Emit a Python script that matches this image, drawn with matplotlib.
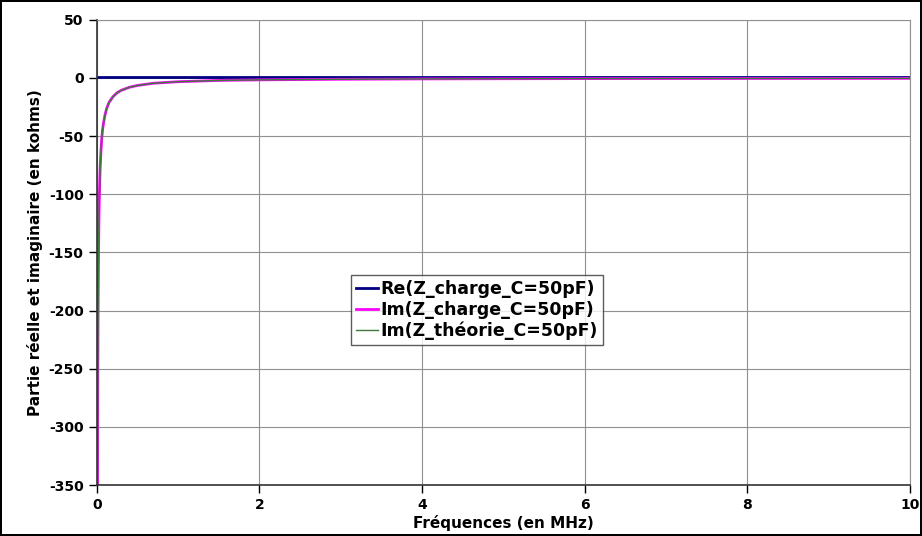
import matplotlib.pyplot as plt
import numpy as np

plt.rcParams['axes.unicode_minus'] = False

# Donnees (f en MHz, Z en kohms)
freq = np.array([0.009, 0.01, 0.012, 0.015, 0.02, 0.025, 0.03, 0.04, 0.05, 0.06,
                 0.07, 0.08, 0.1, 0.12, 0.15, 0.2, 0.25, 0.3, 0.4, 0.5, 0.7,
                 1, 1.5, 2, 3, 4, 5, 6, 7, 8, 9, 10])
re_charge = np.array([1.0] * len(freq))
im_charge = np.array([-354, -318, -265, -212, -159, -127, -106, -80, -64, -53,
                      -45, -40, -32, -26.5, -21, -16, -12.7, -10.6, -8, -6.4, -4.5,
                      -3.2, -2.1, -1.6, -1.1, -0.8, -0.64, -0.53, -0.45, -0.4, -0.35, -0.32])
im_theorie = im_charge.copy()

xticks = [0, 2, 4, 6, 8, 10]
yticks = [50, 0, -50, -100, -150, -200, -250, -300, -350]

fig = plt.figure(figsize=(9.22, 5.36), dpi=100)
fig.patch.set_edgecolor('black')
fig.patch.set_linewidth(1.5)
ax = fig.add_axes([0.105, 0.095, 0.882, 0.868])

ax.plot(freq, re_charge, color='#000080', linewidth=2, label='Re(Z_charge_C=50pF)')
ax.plot(freq, im_charge, color='#ff00ff', linewidth=2, label='Im(Z_charge_C=50pF)')
ax.plot(freq, im_theorie, color='#3c7a3c', linewidth=1, label='Im(Z_théorie_C=50pF)')

ax.set_xlim(0, 10)
ax.set_ylim(-350, 50)
ax.set_xticks(xticks)
ax.set_yticks(yticks)
ax.grid(True, color='#909090', linewidth=0.8)
ax.set_axisbelow(True)
for s in ['top', 'right']:
    ax.spines[s].set_color('#909090')
    ax.spines[s].set_linewidth(0.8)
for s in ['left', 'bottom']:
    ax.spines[s].set_color('#333333')
    ax.spines[s].set_linewidth(1.2)
ax.tick_params(length=6, width=1, labelsize=10)
for lab in ax.get_xticklabels() + ax.get_yticklabels():
    lab.set_fontweight('bold')

ax.set_xlabel('Fréquences (en MHz)', fontsize=11, fontweight='bold', labelpad=2)
ax.set_ylabel('Partie réelle et imaginaire (en kohms)', fontsize=11, fontweight='bold')

leg = ax.legend(loc='center', bbox_to_anchor=(0.467, 0.376), prop={'weight': 'bold', 'size': 12.5},
                frameon=True, fancybox=False, edgecolor='#333333', handlelength=1.3,
                handletextpad=0.1, borderpad=0.3, labelspacing=0.15, borderaxespad=0)
leg.get_frame().set_linewidth(1)

fig.savefig('out.png', dpi=100)
